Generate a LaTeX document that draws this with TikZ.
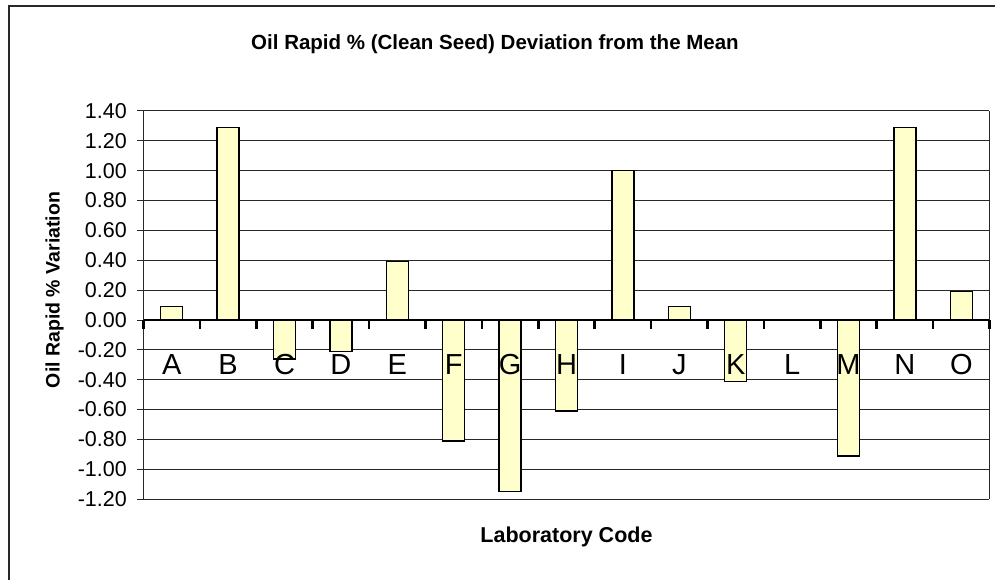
\documentclass[tikz,border=0pt]{standalone}
\usepackage{fontspec}
\setmainfont{Liberation Sans}
\usetikzlibrary{positioning}

\definecolor{barfill}{RGB}{255,255,204}
\definecolor{gridcol}{RGB}{40,40,40}

\begin{document}
\begin{tikzpicture}[x=1pt,y=-1pt,
  bar/.style={draw=black,line width=1.4pt,fill=barfill},
  gridline/.style={draw=gridcol,line width=1pt},
  ticklab/.style={font=\fontsize{21.5}{21.5}\selectfont,anchor=east,inner sep=0pt},
  catlab/.style={font=\fontsize{29}{29}\selectfont,inner sep=0pt},
  axtitle/.style={font=\bfseries\fontsize{20.5}{20.5}\selectfont,inner sep=0pt}]
\clip (0,0) rectangle (995,580);
% chart frame (only top and left edge inside the picture)
\draw[line width=1.6pt,gridcol] (9,6) rectangle (1010,600);
% grid lines and value labels
\foreach \t [count=\k] in {-1.20,-1.00,-0.80,-0.60,-0.40,-0.20,0.00,0.20,0.40,0.60,0.80,1.00,1.20,1.40}{
  \draw[gridline] (136.5,{320-29.86*(\k-7)}) -- (989,{320-29.86*(\k-7)});
  \node[ticklab] (yl\k) at (127,{320-29.86*(\k-7)}) {\t};
}
\draw[gridline] (143.5,111) -- (143.5,499);
\draw[gridline] (989,111) -- (989,499);
% bars
\foreach \v [count=\i] in {0.09,1.29,-0.26,-0.21,0.39,-0.81,-1.15,-0.61,1.00,0.09,-0.41,0,-0.91,1.29,0.19}{
  \draw[bar] ({143.5+56.4*(\i-0.5)-11},320) rectangle ({143.5+56.4*(\i-0.5)+11},{320-149.3*\v});
}
% zero axis with ticks
\draw[line width=2.6pt] (143.5,320) -- (989,320);
\foreach \i in {0,...,15}
  \draw[line width=2.6pt] ({143.5+56.4*\i},320) -- ({143.5+56.4*\i},329);
% laboratory codes
\foreach \c [count=\i] in {A,B,C,D,E,F,G,H,I,J,K,L,M,N,O}
  \node[catlab] (cat\i) at ({143.5+56.4*(\i-0.5)},365) {\c};
% titles
\node[axtitle] (title) at (495,44.5) {Oil Rapid \% (Clean Seed) Deviation from the Mean};
\node[axtitle,font=\bfseries\fontsize{21.5}{21.5}\selectfont] (xtitle) at (566.5,537) {Laboratory Code};
\node[axtitle,font=\bfseries\fontsize{19.5}{19.5}\selectfont,rotate=90] (ytitle) at (54.5,290) {Oil Rapid \% Variation};
\end{tikzpicture}
\end{document}
